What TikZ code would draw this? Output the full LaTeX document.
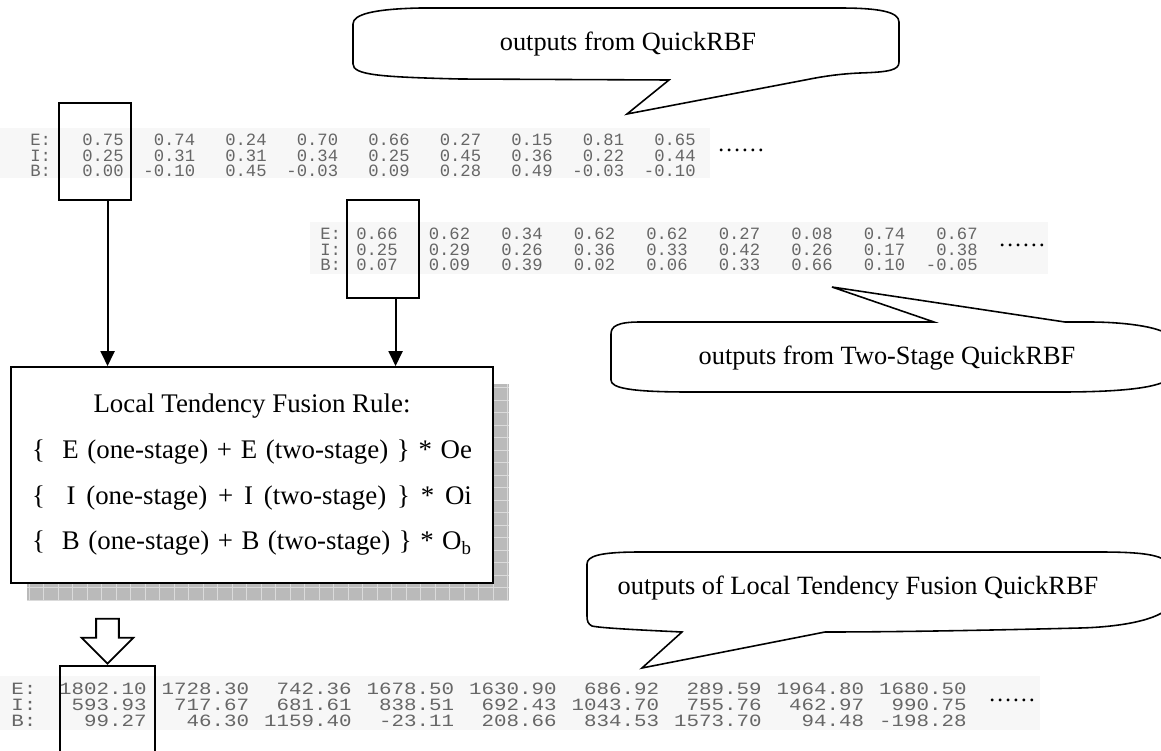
\documentclass[tikz,border=0pt]{standalone}
\usepackage{fontspec}
\setmainfont{Liberation Serif}
\newfontfamily\tabfont{Liberation Mono}
\newfontfamily\widefont[FakeStretch=1.21]{Liberation Mono}
\usetikzlibrary{shapes,arrows,arrows.meta}
\usetikzlibrary{calc,positioning}

\begin{document}
\begin{tikzpicture}[x=0.02cm,y=-0.02cm]
    \tikzstyle{outlbl} = [font=\tabfont\fontsize{9.8}{8.8}\selectfont, text=black!60, align=left, inner sep=0pt, anchor=north west]
    \tikzstyle{outcol} = [font=\tabfont\fontsize{9.8}{8.8}\selectfont, text=black!60, align=right, inner sep=0pt, anchor=north east]
    \tikzstyle{bigcol} = [font=\widefont\fontsize{9.8}{9.1}\selectfont, text=black!60, align=right, inner sep=0pt, anchor=north east]
    \tikzstyle{biglbl} = [font=\widefont\fontsize{9.8}{9.1}\selectfont, text=black!60, align=left, inner sep=0pt, anchor=north west]
    \tikzstyle{dots} = [font=\fontsize{13.5}{14}\selectfont, inner sep=0pt]
    \tikzstyle{selbox} = [draw, line width=1.1pt, minimum width=1.44cm, inner sep=0pt]
    \tikzstyle{balloon} = [draw, line width=0.9pt, fill=white]
    \tikzstyle{say} = [font=\fontsize{15}{18}\selectfont, inner sep=0pt]
    \tikzstyle{arr} = [line width=1.1pt, -{Triangle[width=8pt,length=8.5pt]}]

    \path[use as bounding box, clip] (0,0) rectangle (1161,751);

    % callout: outputs from QuickRBF .........................
    \draw[balloon] (669,80) -- (460,79) .. controls (380,77) and (353,75) .. (353,64)
        -- (353,24) .. controls (353,14) and (375,9) .. (420,8) -- (840,8)
        .. controls (880,8) and (899,12) .. (899,22) -- (899,62)
        .. controls (899,70) and (890,72) .. (860,73)
        .. controls (835,74) and (815,78) .. (805,80) -- (627,114) -- cycle;
    \node[say] (sayA) at (628,44) {outputs from QuickRBF};

    % one-stage outputs .........................
    \fill[black!3] (0,128) rectangle (710,178);
    \node[outlbl] (labA) at (30,134) {E:\\I:\\B:};
    \foreach \ve/\vi/\vb [count=\k] in {0.75/0.25/0.00, 0.74/0.31/-0.10, 0.24/0.31/0.45,
        0.70/0.34/-0.03, 0.66/0.25/0.09, 0.27/0.45/0.28, 0.15/0.36/0.49,
        0.81/0.22/-0.03, 0.65/0.44/-0.10}
        \node[outcol] (a\k) at ({124+71.5*(\k-1)},134) {\ve\\\vi\\\vb};
    \node[dots] (dotsA) at (741,150) {……};
    \node[selbox, minimum height=1.94cm] (boxA) at (95,151.5) {};

    % two-stage outputs .........................
    \fill[black!3] (310,222) rectangle (1048,274);
    \node[outlbl] (labB) at (320,228) {E:\\I:\\B:};
    \foreach \ve/\vi/\vb [count=\k] in {0.66/0.25/0.07, 0.62/0.29/0.09, 0.34/0.26/0.39,
        0.62/0.36/0.02, 0.62/0.33/0.06, 0.27/0.42/0.33, 0.08/0.26/0.66,
        0.74/0.17/0.10, 0.67/0.38/-0.05}
        \node[outcol] (b\k) at ({398+72.5*(\k-1)},228) {\ve\\\vi\\\vb};
    \node[dots] (dotsB) at (1022,245) {……};
    \node[selbox, minimum height=1.96cm] (boxB) at (383,249) {};

    % callout: outputs from Two-Stage QuickRBF .........................
    \draw[balloon] (934,322) -- (640,322)
        .. controls (618,322) and (611,326) .. (611,334) -- (611,380)
        .. controls (611,388) and (630,392) .. (690,392) -- (1060,392)
        .. controls (1120,392) and (1160,388) .. (1170,378) -- (1170,336)
        .. controls (1160,326) and (1120,322) .. (1090,322) -- (1065,322)
        -- (832,287) -- cycle;
    \node[say] (sayB) at (887,358) {outputs from Two-Stage QuickRBF};

    % fusion rule .........................
    \fill[black!27] (27,384) rectangle (509,600);
    \draw[black!14, step={(0.29cm,0.25cm)}] (27,384) grid (509,600);
    \node[draw, fill=white, line width=1.1pt, minimum width=9.64cm, minimum height=4.32cm,
          align=center, font=\fontsize{15.3}{26}\selectfont] (rule) at (252,475)
        {Local Tendency Fusion Rule:\\
         \makebox[8.8cm][s]{\{\ \ E (one-stage) + E (two-stage) \} * Oe}\\
         \makebox[8.8cm][s]{\{\ \ I (one-stage) + I (two-stage) \} * Oi}\\
         \makebox[8.8cm][s]{\{\ \ B (one-stage) + B (two-stage) \} * O\textsubscript{b}}};

    \coordinate (outA) at ($(boxA.south west)!0.67!(boxA.south east)$);
    \coordinate (outB) at ($(boxB.south west)!0.67!(boxB.south east)$);
    \draw[arr] (outA) -- (outA |- rule.north);
    \draw[arr] (outB) -- (outB |- rule.north);

    % callout: outputs of Local Tendency Fusion QuickRBF .........................
    \draw[balloon] (682,632) .. controls (640,630) and (600,628) .. (592,626)
        .. controls (588,624) and (587,621) .. (587,616) -- (587,564)
        .. controls (587,556) and (600,552) .. (640,552) -- (1100,552)
        .. controls (1150,552) and (1165,556) .. (1170,566) -- (1170,606)
        .. controls (1160,620) and (1120,627) .. (1080,628)
        .. controls (1000,630) and (900,632) .. (825,632)
        -- (642,668) -- cycle;
    \node[say] (sayC) at (858,588) {outputs of Local Tendency Fusion QuickRBF};

    % fused outputs .........................
    \node[draw, fill=white, line width=1pt, single arrow, shape border rotate=270,
          minimum height=0.9cm, minimum width=1cm, inner sep=0.21cm,
          single arrow head extend=0.29cm] (fuse) at (107.5,635.5) {};
    \fill[black!3] (0,676) rectangle (1040,730);
    \node[biglbl] (labC) at (11,683) {E:\\I:\\B:};
    \foreach \ve/\vi/\vb [count=\k] in {1802.10/593.93/99.27, 1728.30/717.67/46.30,
        742.36/681.61/1159.40, 1678.50/838.51/-23.11, 1630.90/692.43/208.66,
        686.92/1043.70/834.53, 289.59/755.76/1573.70, 1964.80/462.97/94.48,
        1680.50/990.75/-198.28}
        \node[bigcol] (c\k) at ({147+102.5*(\k-1)},683) {\ve\\\vi\\\vb};
    \node[dots] (dotsC) at (1012,700) {……};
    \node[selbox, minimum width=1.9cm, minimum height=2.2cm, anchor=north] (boxC) at (fuse.tip) {};
\end{tikzpicture}
\end{document}
